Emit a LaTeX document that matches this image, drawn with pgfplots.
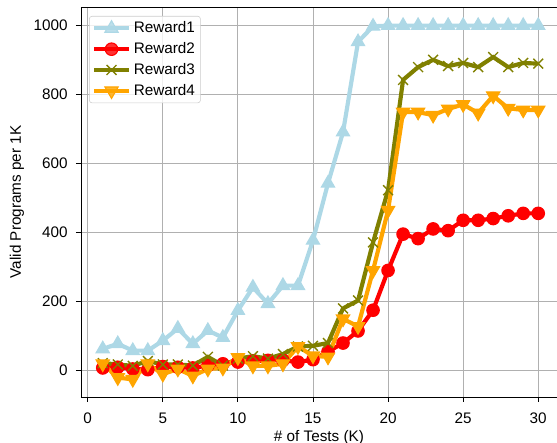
\documentclass[border=0pt]{standalone}
\usepackage{fontspec}
\setmainfont{Liberation Sans}
\usepackage{pgfplots}
\pgfplotsset{compat=1.18}

\definecolor{rwone}{RGB}{173,216,230}
\definecolor{rwthree}{RGB}{128,128,0}
\definecolor{rwfour}{RGB}{255,165,0}
\definecolor{gridc}{RGB}{176,176,176}

\begin{document}
\begin{tikzpicture}
\begin{axis}[
    scale only axis,
    width=342.7pt, height=280.8pt,
    xmin=-0.45, xmax=31.25,
    ymin=-76, ymax=1052,
    axis lines=left,
    axis line style={-, line width=0.6pt},
    xtick={0,5,...,30},
    ytick={0,200,...,1000},
    tick align=outside,
    major tick length=3.6pt,
    tick style={black, line width=0.6pt},
    grid=major,
    major grid style={gridc, line width=0.6pt},
    /pgf/number format/assume math mode=true,
    /pgf/number format/1000 sep={},
    tick label style={font=\fontsize{11}{13}\selectfont},
    xticklabel style={yshift=-4.5pt},
    yticklabel style={xshift=-2.5pt},
    label style={font=\fontsize{11}{13}\selectfont},
    xlabel={\# of Tests (K)},
    xlabel style={yshift=2pt},
    ylabel={Valid Programs per 1K},
    legend style={at={(0,1)}, anchor=north west, xshift=5.8pt, yshift=-6.5pt,
        draw=black!20, rounded corners=2pt, fill=white, fill opacity=0.8,
        text opacity=1, font=\fontsize{11}{13}\selectfont,
        inner sep=2pt, row sep=1.5pt, cells={anchor=west}},
    legend image code/.code={\draw[mark repeat=2, mark phase=2]
        plot coordinates {(0pt,0pt) (12.5pt,0pt) (25pt,0pt)};},
]
\addplot[rwone, line width=3pt, mark=triangle*, mark size=5.5pt,
    mark options={solid, line width=0.8pt}] coordinates {
  (1,63) (2,78) (3,58) (4,58) (5,87) (6,122) (7,78) (8,116) (9,96) (10,174)
  (11,241) (12,194) (13,246) (14,246) (15,377) (16,542) (17,690) (18,951) (19,996) (20,998)
  (21,998) (22,998) (23,998) (24,998) (25,998) (26,998) (27,998) (28,998) (29,998) (30,998)
};
\addlegendentry{Reward1}
\addplot[red, line width=3pt, mark=*, mark size=4.5pt,
    mark options={solid, line width=0.8pt}] coordinates {
  (1,8) (2,10) (3,5) (4,3) (5,12) (6,10) (7,8) (8,15) (9,20) (10,25)
  (11,28) (12,30) (13,30) (14,25) (15,32) (16,55) (17,80) (18,115) (19,175) (20,290)
  (21,395) (22,382) (23,410) (24,405) (25,435) (26,435) (27,440) (28,448) (29,455) (30,455)
};
\addlegendentry{Reward2}
\addplot[rwthree, line width=3pt, mark=x, mark size=5pt,
    mark options={solid, line width=1pt}] coordinates {
  (1,22) (2,18) (3,14) (4,28) (5,18) (6,18) (7,15) (8,40) (9,15) (10,35)
  (11,42) (12,35) (13,48) (14,70) (15,72) (16,80) (17,180) (18,203) (19,371) (20,522)
  (21,841) (22,878) (23,899) (24,881) (25,890) (26,878) (27,907) (28,878) (29,890) (30,888)
};
\addlegendentry{Reward3}
\addplot[rwfour, line width=3pt, mark=triangle*, mark size=5.5pt,
    mark options={solid, rotate=180, line width=0.8pt}] coordinates {
  (1,20) (2,-20) (3,-25) (4,20) (5,-10) (6,5) (7,-15) (8,5) (9,8) (10,38)
  (11,14) (12,14) (13,20) (14,70) (15,43) (16,40) (17,150) (18,128) (19,290) (20,464)
  (21,748) (22,748) (23,739) (24,757) (25,770) (26,745) (27,795) (28,759) (29,754) (30,754)
};
\addlegendentry{Reward4}
\draw[black, line width=0.6pt] (rel axis cs:0,1) -- (rel axis cs:1,1);
\end{axis}
\pgfresetboundingbox
\path ([shift={(-58.3pt,-33.1pt)}]current axis.south west)
  rectangle ([shift={(0pt,5pt)}]current axis.north east);
\end{tikzpicture}
\end{document}
